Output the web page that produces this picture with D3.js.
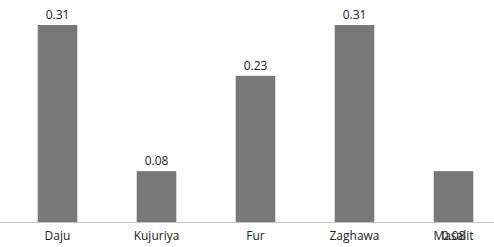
<!DOCTYPE html>
<html>
<head>
<meta charset="utf-8">
<script src="https://cdn.jsdelivr.net/npm/d3@7"></script>
<style>
  html, body { margin: 0; padding: 0; background: #fff; }
  svg text { font-family: "Open Sans", "Liberation Sans", sans-serif; font-size: 12px; fill: #222; }
</style>
</head>
<body>
<svg id="chart" width="494" height="247"></svg>
<script>
const categories = ["Daju", "Kujuriya", "Fur", "Zaghawa", "Masalit"];
const values = [0.31, 0.08, 0.23, 0.31, 0.08];
// the last value label sits down on the axis label in the original
const labelOnAxis = ["Masalit"];

const W = 494, H = 247;
const svg = d3.select("#chart");

const x = d3.scaleBand()
  .domain(categories)
  .range([8, 503])
  .paddingInner(0.6)
  .paddingOuter(0.3);

const y = d3.scaleLinear()
  .domain([0, 0.31])
  .range([222, 25]);

const data = categories.map((c, i) => ({ name: c, value: values[i] }));

// bars
svg.append("g")
  .selectAll("rect")
  .data(data)
  .join("rect")
  .attr("x", d => x(d.name))
  .attr("y", d => y(d.value))
  .attr("width", x.bandwidth())
  .attr("height", d => y(0) - y(d.value))
  .attr("fill", "#787878");

// axis line
svg.append("line")
  .attr("x1", 0).attr("x2", W)
  .attr("y1", y(0) + 0.5).attr("y2", y(0) + 0.5)
  .attr("stroke", "#c4c4c4")
  .attr("stroke-width", 1);

// category labels
svg.append("g")
  .selectAll("text")
  .data(data)
  .join("text")
  .attr("x", d => x(d.name) + x.bandwidth() / 2)
  .attr("y", 240)
  .attr("text-anchor", "middle")
  .text(d => d.name);

// value labels
svg.append("g")
  .selectAll("text")
  .data(data)
  .join("text")
  .attr("x", d => x(d.name) + x.bandwidth() / 2)
  .attr("y", d => labelOnAxis.includes(d.name) ? 240 : y(d.value) - 6)
  .attr("text-anchor", "middle")
  .text(d => d3.format(".2f")(d.value));
</script>
</body>
</html>
